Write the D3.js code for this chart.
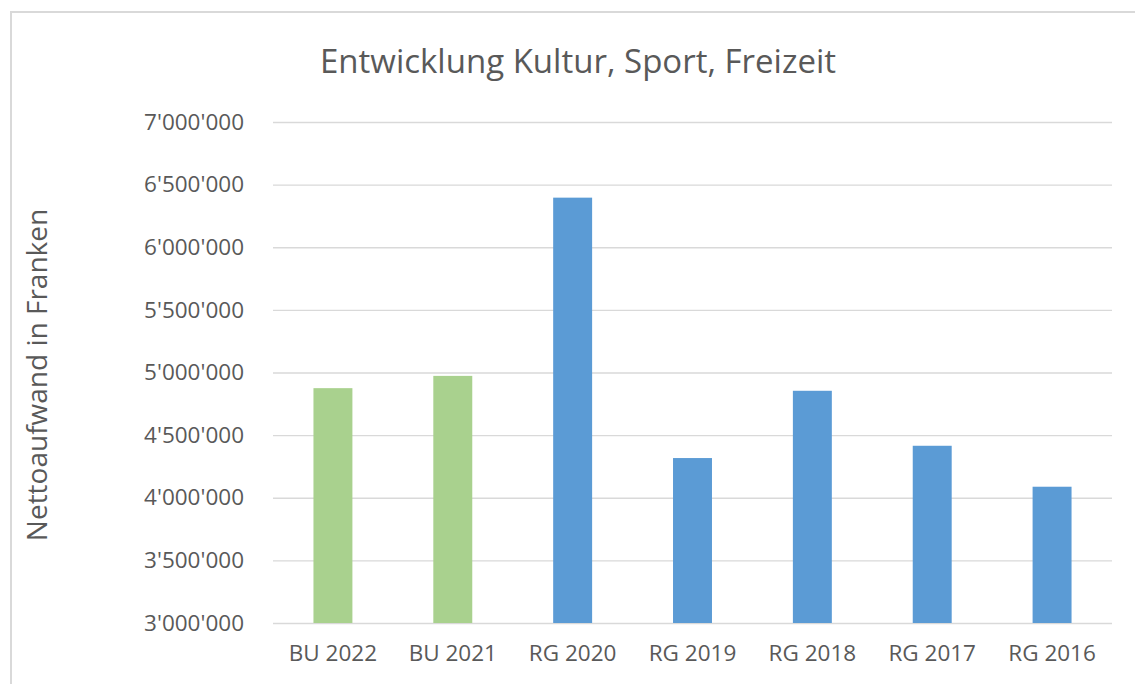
<!DOCTYPE html>
<html lang="de">
<head>
<meta charset="UTF-8">
<title>Entwicklung Kultur, Sport, Freizeit</title>
<script src="https://d3js.org/d3.v7.min.js"></script>
<style>
    body { margin: 0; background: #fff; }
    text { font-family: "Open Sans", sans-serif; fill: #595959; }
</style>
</head>
<body>
<div id="chart"></div>
<script>
    // data
    var categories = ["BU 2022", "BU 2021", "RG 2020", "RG 2019", "RG 2018", "RG 2017", "RG 2016"];
    var values = [4875000, 4973000, 6396000, 4317000, 4854000, 4415000, 4088000];
    var kinds = ["budget", "budget", "rechnung", "rechnung", "rechnung", "rechnung", "rechnung"];
    var yTicks = [3000000, 3500000, 4000000, 4500000, 5000000, 5500000, 6000000, 6500000, 7000000];

    var width = 1135, height = 684;
    var margin = {top: 122, right: 23, bottom: 61, left: 273};

    var svg = d3.select("#chart").append("svg")
        .attr("width", width)
        .attr("height", height);

    // chart frame (cut off at right/bottom like the screenshot)
    svg.append("rect")
        .attr("x", 11).attr("y", 12)
        .attr("width", width + 20).attr("height", height + 20)
        .attr("fill", "none")
        .attr("stroke", "#d9d9d9")
        .attr("stroke-width", 2);

    var x = d3.scaleBand()
        .domain(categories)
        .range([margin.left, width - margin.right])
        .paddingInner(0.675)
        .paddingOuter(0.3375);

    var y = d3.scaleLinear()
        .domain([3000000, 7000000])
        .range([height - margin.bottom, margin.top]);

    var color = {budget: "#a9d18e", rechnung: "#5b9bd5"};

    // apostrophe thousands separator
    var fmt = function(v) { return d3.format(",")(v).replace(/,/g, "'"); };

    // gridlines + y labels
    var yAxis = svg.append("g")
        .attr("transform", "translate(" + margin.left + ",0)")
        .call(d3.axisLeft(y).tickValues(yTicks).tickFormat(fmt)
            .tickSize(-(width - margin.left - margin.right)).tickPadding(29));
    yAxis.select(".domain").remove();
    yAxis.selectAll(".tick line").attr("stroke", "#d9d9d9").attr("stroke-width", 1.3);
    yAxis.selectAll(".tick text")
        .style("font-size", "22.5px")
        .style("fill", "#595959");

    // bars
    svg.selectAll("rect.bar")
        .data(categories)
        .enter().append("rect")
        .attr("class", "bar")
        .attr("x", function(d) { return x(d); })
        .attr("width", x.bandwidth())
        .attr("y", function(d, i) { return y(values[i]); })
        .attr("height", function(d, i) { return y(3000000) - y(values[i]); })
        .attr("fill", function(d, i) { return color[kinds[i]]; });

    // x axis labels
    var xAxis = svg.append("g")
        .attr("transform", "translate(0," + (height - margin.bottom) + ")")
        .call(d3.axisBottom(x).tickSize(0).tickPadding(22));
    xAxis.select(".domain").remove();
    xAxis.selectAll(".tick text")
        .style("font-size", "22.5px")
        .style("fill", "#595959");

    // title
    svg.append("text")
        .attr("x", 578)
        .attr("y", 73)
        .attr("text-anchor", "middle")
        .style("font-size", "33px")
        .text("Entwicklung Kultur, Sport, Freizeit");

    // y axis title
    svg.append("text")
        .attr("transform", "translate(47,375) rotate(-90)")
        .attr("text-anchor", "middle")
        .style("font-size", "28px")
        .text("Nettoaufwand in Franken");
</script>
</body>
</html>
